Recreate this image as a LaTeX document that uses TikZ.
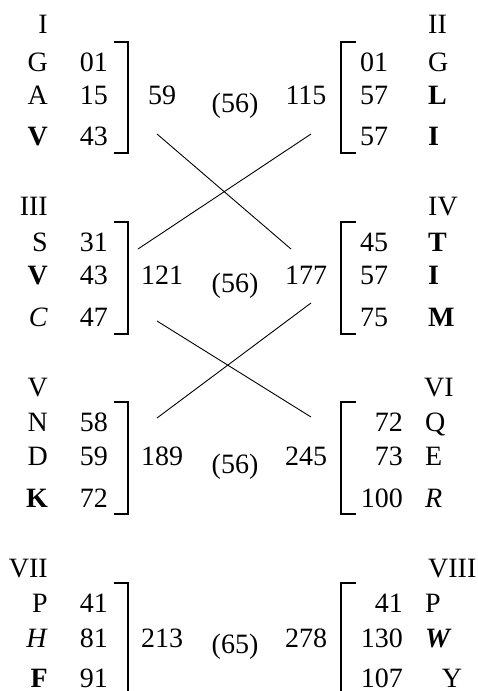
\documentclass[tikz,border=0pt]{standalone}
\usepackage{fontspec}
\setmainfont{Liberation Serif}
\begin{document}
\begin{tikzpicture}[x=1pt,y=-1pt,
  every node/.style={inner sep=0pt, font=\fontsize{28}{33}\selectfont},
  le/.style={anchor=base east},
  lw/.style={anchor=base west},
  cb/.style={anchor=base},
  brk/.style={line width=2pt},
  cross/.style={line width=0.9pt}]
\useasboundingbox (0,0) rectangle (478,691);
% ---------- Block I ----------
\node[le] (r1) at (48,33) {I};
\node[le] (a1) at (48,71) {G};   \node[le] (b1) at (108,71) {01};
\node[le] (a2) at (48,104) {A};  \node[le] (b2) at (108,104) {15};
\node[le] (a3) at (48,145) {\textbf{V}}; \node[le] (b3) at (108,145) {43};
\draw[brk] (114,42) -- (128,42) -- (128,153) -- (114,153);
\node[cb] (s1) at (162,104) {59};
\node[cb] (m1) at (235,112) {(56)};
% ---------- Block II ----------
\node[lw] (r2) at (428,33) {II};
\node[lw] (c1) at (360,71) {01};  \node[lw] (d1) at (428,71) {G};
\node[lw] (c2) at (360,104) {57}; \node[lw] (d2) at (428,104) {\textbf{L}};
\node[lw] (c3) at (360,145) {57}; \node[lw] (d3) at (428,145) {\textbf{I}};
\draw[brk] (356,42) -- (341,42) -- (341,153) -- (356,153);
\node[cb] (s2) at (306,104) {115};
% ---------- Block III ----------
\node[le] (r3) at (48,215) {III};
\node[le] (a4) at (48,251) {S};  \node[le] (b4) at (108,251) {31};
\node[le] (a5) at (48,284) {\textbf{V}}; \node[le] (b5) at (108,284) {43};
\node[le] (a6) at (48,326) {\textit{C}}; \node[le] (b6) at (108,326) {47};
\draw[brk] (114,222) -- (128,222) -- (128,334) -- (114,334);
\node[cb] (s3) at (162,284) {121};
\node[cb] (m2) at (235,292) {(56)};
% ---------- Block IV ----------
\node[lw] (r4) at (428,215) {IV};
\node[lw] (c4) at (360,251) {45}; \node[lw] (d4) at (428,251) {\textbf{T}};
\node[lw] (c5) at (360,284) {57}; \node[lw] (d5) at (428,284) {\textbf{I}};
\node[lw] (c6) at (360,326) {75}; \node[lw] (d6) at (428,326) {\textbf{M}};
\draw[brk] (356,222) -- (341,222) -- (341,334) -- (356,334);
\node[cb] (s4) at (306,284) {177};
% ---------- Block V ----------
\node[le] (r5) at (48,396) {V};
\node[le] (a7) at (48,431) {N};  \node[le] (b7) at (108,431) {58};
\node[le] (a8) at (48,465) {D};  \node[le] (b8) at (108,465) {59};
\node[le] (a9) at (48,507) {\textbf{K}}; \node[le] (b9) at (108,507) {72};
\draw[brk] (114,402) -- (128,402) -- (128,514) -- (114,514);
\node[cb] (s5) at (162,465) {189};
\node[cb] (m3) at (235,473) {(56)};
% ---------- Block VI ----------
\node[lw] (r6) at (424,396) {VI};
\node[le] (c7) at (403,431) {72};  \node[lw] (d7) at (425,431) {Q};
\node[le] (c8) at (403,465) {73};  \node[lw] (d8) at (425,465) {E};
\node[le] (c9) at (403,507) {100}; \node[lw] (d9) at (425,507) {\textit{R}};
\draw[brk] (356,402) -- (341,402) -- (341,514) -- (356,514);
\node[cb] (s6) at (306,465) {245};
% ---------- Block VII ----------
\node[le] (r7) at (48,577) {VII};
\node[le] (a10) at (48,612) {P};  \node[le] (b10) at (108,612) {41};
\node[le] (a11) at (48,647) {\textit{H}}; \node[le] (b11) at (108,647) {81};
\node[le] (a12) at (48,687) {\textbf{F}}; \node[le] (b12) at (108,687) {91};
\draw[brk] (114,583) -- (128,583) -- (128,700);
\node[cb] (s7) at (162,647) {213};
\node[cb] (m4) at (235,653) {(65)};
% ---------- Block VIII ----------
\node[lw] (r8) at (428,577) {VIII};
\node[le] (c10) at (403,612) {41};  \node[lw] (d10) at (425,612) {P};
\node[le] (c11) at (403,647) {130}; \node[lw] (d11) at (425,647) {\textbf{\textit{W}}};
\node[le] (c12) at (403,687) {107}; \node[cb] (d12) at (452,687) {Y};
\draw[brk] (356,583) -- (341,583) -- (341,700);
\node[cb] (s8) at (306,647) {278};
% ---------- crossing lines ----------
\coordinate (p1) at (157,134);
\coordinate (q1) at (291,249);
\coordinate (p2) at (138,249);
\coordinate (q2) at (311,134);
\coordinate (p3) at (157,321);
\coordinate (q3) at (311,417);
\coordinate (p4) at (157,418);
\coordinate (q4) at (311,303);
\draw[cross] (p1) -- (q1);
\draw[cross] (p2) -- (q2);
\draw[cross] (p3) -- (q3);
\draw[cross] (p4) -- (q4);
\end{tikzpicture}
\end{document}
